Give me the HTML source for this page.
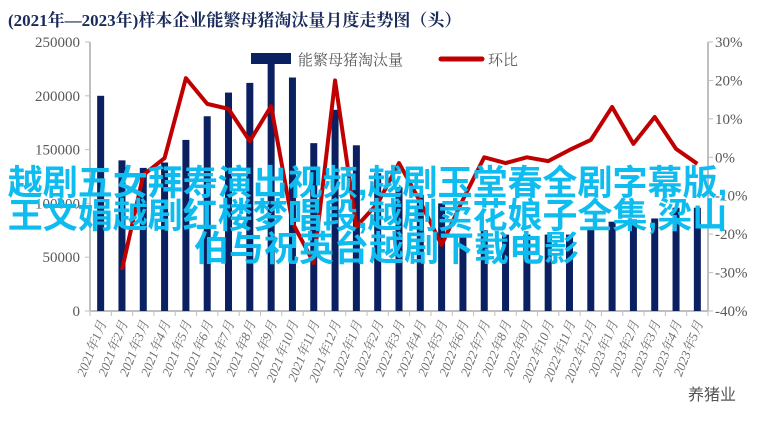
<!DOCTYPE html>
<html><head><meta charset="utf-8"><style>
body{margin:0;background:#fff;width:767px;height:426px;overflow:hidden;position:relative}
svg{position:absolute;left:0;top:0}
.ov{position:absolute;left:0;width:767px;text-align:center;color:#0fbcf0;font:bold 35px "Liberation Sans","Noto Sans CJK SC",sans-serif;white-space:nowrap;letter-spacing:0px;line-height:34px}
</style></head><body>
<svg id="c" width="767" height="426"></svg>
<div class="ov" style="top:167px;left:-16px">越剧五女拜寿演出视频,越剧玉堂春全剧字幕版,</div>
<div class="ov" style="top:200px;left:-16px">王文娟越剧红楼梦唱段,越剧卖花娘子全集,梁山</div>
<div class="ov" style="top:233px;left:3px">伯与祝英台越剧下载电影</div>
<script>
const categories=["2021年1月","2021年2月","2021年3月","2021年4月","2021年5月","2021年6月","2021年7月","2021年8月","2021年9月","2021年10月","2021年11月","2021年12月","2022年1月","2022年2月","2022年3月","2022年4月","2022年5月","2022年6月","2022年7月","2022年8月","2022年9月","2022年10月","2022年11月","2022年12月","2023年1月","2023年2月","2023年3月","2023年4月","2023年5月"];
const volume=[200000,140000,133000,138000,159000,181000,203000,212000,238000,217000,156000,187000,154000,128000,115000,108000,100000,72000,75000,71000,71000,71000,71000,78000,83000,85000,86000,96000,96000];
const mom=[null,-29.3,-4.6,-0.2,20.6,13.9,12.6,4.2,13.3,-17,-27.5,20,-18,-12,-1.5,-11.6,-22.8,-11,0,-1.5,0,-1,1.9,4.5,13.1,3.5,10.5,2.2,-1.7];
const leftTicks=[0,50000,100000,150000,200000,250000];
const rightTicks=[-40,-30,-20,-10,0,10,20,30];
const NS="http://www.w3.org/2000/svg",svg=document.getElementById('c');
const X0=90,X1=708,Y0=311,Y1=42;
const step=(X1-X0)/categories.length;
const xc=i=>X0+step*(i+0.5);
const yL=v=>Y0-(v/250000)*(Y0-Y1);
const yR=v=>Y0-((v+40)/70)*(Y0-Y1);
function mk(t,a,p){const e=document.createElementNS(NS,t);for(const k in a)e.setAttribute(k,a[k]);(p||svg).appendChild(e);return e;}
const SF='"Liberation Serif","Noto Serif CJK SC",serif';
let t=mk('text',{x:8,y:26,'font-family':SF,'font-size':17,'font-weight':'bold',fill:'#1a2a5a'});t.textContent='(2021年—2023年)样本企业能繁母猪淘汰量月度走势图（头）';


mk('line',{x1:X0,y1:Y1,x2:X0,y2:Y0,stroke:'#bfbfbf','stroke-width':2});
mk('line',{x1:X1,y1:Y1,x2:X1,y2:Y0,stroke:'#bfbfbf','stroke-width':2});
mk('line',{x1:X0,y1:Y0,x2:X1,y2:Y0,stroke:'#bfbfbf','stroke-width':2});
leftTicks.forEach(v=>{mk('line',{x1:X0-5,y1:yL(v),x2:X0,y2:yL(v),stroke:'#bfbfbf'});
const e=mk('text',{x:X0-10,y:yL(v)+5,'text-anchor':'end','font-family':SF,'font-size':15,fill:'#595959'});e.textContent=v;

});
rightTicks.forEach(v=>{mk('line',{x1:X1,y1:yR(v),x2:X1+5,y2:yR(v),stroke:'#bfbfbf'});
const e=mk('text',{x:X1+7,y:yR(v)+5,'font-family':SF,'font-size':15,fill:'#595959'});e.textContent=v+'%';

});
for(let i=0;i<=categories.length;i++)mk('line',{x1:X0+step*i,y1:Y0,x2:X0+step*i,y2:Y0+5,stroke:'#bfbfbf'});
categories.forEach((c,i)=>{const x=xc(i)+6,y=Y0+12;
const e=mk('text',{x:x,y:y,'text-anchor':'end','font-family':SF,'font-size':13,'font-style':'italic',fill:'#707070',transform:`rotate(-68 ${x} ${y})`});e.textContent=c;

});
volume.forEach((v,i)=>{const r=mk('rect',{x:xc(i)-3.5,y:yL(v),width:7,height:Y0-yL(v),fill:'#0b2060'});

});
let d='';mom.forEach((v,i)=>{if(v===null)return;d+=(d?'L':'M')+xc(i)+' '+yR(v)+' ';});
const ln=mk('path',{d:d,fill:'none',stroke:'#c00000','stroke-width':4,'stroke-linejoin':'round'});


const lg=mk('g',{});


mk('rect',{x:251,y:53,width:40,height:11,fill:'#0b2060'},lg);
let l1=mk('text',{x:298,y:65,'font-family':SF,'font-size':15,fill:'#595959'},lg);l1.textContent='能繁母猪淘汰量';
mk('line',{x1:441,y1:59,x2:482,y2:59,stroke:'#c00000','stroke-width':5,'stroke-linecap':'round'},lg);
let l2=mk('text',{x:488,y:65,'font-family':SF,'font-size':15,fill:'#595959'},lg);l2.textContent='环比';
let w=mk('text',{x:688,y:400,'font-family':'"Liberation Sans","Noto Sans CJK SC",sans-serif','font-size':16,fill:'#555'});w.textContent='养猪业';


</script>
</body></html>
